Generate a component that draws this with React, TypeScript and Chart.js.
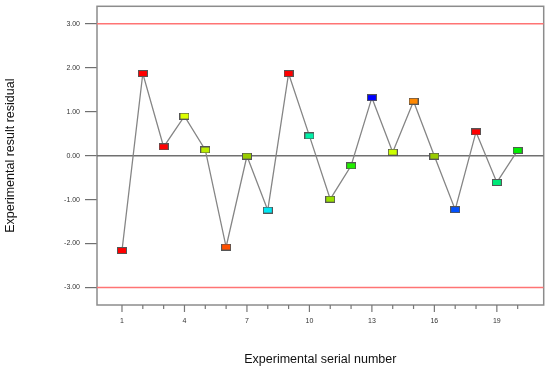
import React, { useEffect, useRef } from "react";
import { Chart, registerables } from "chart.js";

Chart.register(...registerables);

const SERIAL = [1, 2, 3, 4, 5, 6, 7, 8, 9, 10, 11, 12, 13, 14, 15, 16, 17, 18, 19, 20];
const RESIDUALS = [-2.16, 1.87, 0.2, 0.9, 0.13, -2.08, -0.01, -1.24, 1.87, 0.45, -0.99, -0.23, 1.32, 0.08, 1.24, -0.01, -1.23, 0.54, -0.61, 0.12];
const POINT_COLORS = [
  "#ff0000", "#ff0000", "#ff0000", "#ddff00", "#bbee00",
  "#ff5000", "#99cc00", "#00e8f4", "#ff0000", "#00f0a8",
  "#99e000", "#22ee00", "#0000ff", "#ccff00", "#ff8800",
  "#99cc00", "#0050ff", "#ff0000", "#00e878", "#00ee00",
];
const X_LABELED = [1, 4, 7, 10, 13, 16, 19];
const Y_TICKS = [-3, -2, -1, 0, 1, 2, 3];
const LIMIT_UPPER = 3;
const LIMIT_LOWER = -3;
const ZERO = 0;
const X_MIN = -0.2;
const X_MAX = 21.25;
const Y_MIN = -3.4;
const Y_MAX = 3.4;

const FONT = "'Liberation Sans', Arial, sans-serif";

function makeMarker(color: string): HTMLCanvasElement {
  const c = document.createElement("canvas");
  c.width = 10;
  c.height = 7;
  const g = c.getContext("2d")!;
  g.fillStyle = color;
  g.fillRect(0, 0, 10, 7);
  g.strokeStyle = "#555555";
  g.lineWidth = 1;
  g.strokeRect(0.5, 0.5, 9, 6);
  return c;
}

const framePlugin = {
  id: "frameAndTicks",
  beforeDatasetsDraw(chart: any) {
    const { ctx, chartArea } = chart;
    const xs = chart.scales.x;
    ctx.save();
    ctx.strokeStyle = "#8c8c8c";
    ctx.lineWidth = 1.5;
    ctx.strokeRect(chartArea.left, chartArea.top, chartArea.right - chartArea.left, chartArea.bottom - chartArea.top);
    ctx.strokeStyle = "#777777";
    ctx.lineWidth = 1.2;
    SERIAL.forEach((v) => {
      const px = xs.getPixelForValue(v);
      const len = X_LABELED.includes(v) ? 7 : 4;
      ctx.beginPath();
      ctx.moveTo(px, chartArea.bottom);
      ctx.lineTo(px, chartArea.bottom + len);
      ctx.stroke();
    });
    ctx.restore();
  },
};

export default function App() {
  const ref = useRef<HTMLCanvasElement>(null);
  useEffect(() => {
    document.body.style.margin = "0";
    const markers = POINT_COLORS.map(makeMarker);
    const chart = new Chart(ref.current!, {
      type: "line",
      data: {
        datasets: [
          {
            data: SERIAL.map((x, i) => ({ x, y: RESIDUALS[i] })),
            borderColor: "#858585",
            borderWidth: 1.3,
            pointStyle: markers as any,
            pointRadius: 5,
            order: 0,
          },
          {
            data: [{ x: X_MIN, y: ZERO }, { x: X_MAX, y: ZERO }],
            borderColor: "#707070",
            borderWidth: 1.5,
            pointRadius: 0,
            order: 1,
          },
          {
            data: [{ x: X_MIN, y: LIMIT_UPPER }, { x: X_MAX, y: LIMIT_UPPER }],
            borderColor: "#ff7474",
            borderWidth: 1.5,
            pointRadius: 0,
            order: 2,
          },
          {
            data: [{ x: X_MIN, y: LIMIT_LOWER }, { x: X_MAX, y: LIMIT_LOWER }],
            borderColor: "#ff7474",
            borderWidth: 1.5,
            pointRadius: 0,
            order: 3,
          },
        ],
      },
      options: {
        responsive: false,
        animation: false,
        events: [],
        layout: { padding: { top: 5, right: 4, left: 0, bottom: 0 } },
        plugins: { legend: { display: false }, tooltip: { enabled: false } },
        scales: {
          x: {
            type: "linear",
            min: X_MIN,
            max: X_MAX,
            afterBuildTicks: (s: any) => {
              s.ticks = SERIAL.map((v) => ({ value: v }));
            },
            afterFit: (s: any) => {
              s.height = 68;
              s.paddingLeft = 0;
              s.paddingRight = 0;
            },
            ticks: {
              autoSkip: false,
              maxRotation: 0,
              padding: 5,
              color: "#333333",
              font: { size: 7, family: FONT },
              callback: (v: any) => (X_LABELED.includes(v) ? String(v) : ""),
            },
            grid: { drawOnChartArea: false, color: "rgba(0,0,0,0)", tickLength: 7 },
            border: { display: false },
            title: {
              display: true,
              text: "Experimental serial number",
              color: "#111111",
              font: { size: 12.5, family: FONT },
              padding: { top: 0, bottom: 5.5 },
            },
          },
          y: {
            type: "linear",
            min: Y_MIN,
            max: Y_MAX,
            afterBuildTicks: (s: any) => {
              s.ticks = Y_TICKS.map((v) => ({ value: v }));
            },
            afterFit: (s: any) => {
              s.width = 97;
              s.paddingTop = 0;
              s.paddingBottom = 0;
            },
            ticks: {
              padding: 5,
              color: "#333333",
              font: { size: 7, family: FONT },
              callback: (v: any) => Number(v).toFixed(2),
            },
            grid: { drawOnChartArea: false, color: "#707070", tickLength: 12, lineWidth: 1.2 },
            border: { display: false },
            title: {
              display: true,
              text: "Experimental result residual",
              color: "#111111",
              font: { size: 12.5, family: FONT },
              padding: { top: 3, bottom: 0 },
            },
          },
        },
      },
      plugins: [framePlugin],
    });
    return () => chart.destroy();
  }, []);
  return (
    <div style={{ width: 550, height: 373 }}>
      <canvas ref={ref} width={550} height={373} style={{ width: 550, height: 373, display: "block" }} />
    </div>
  );
}
